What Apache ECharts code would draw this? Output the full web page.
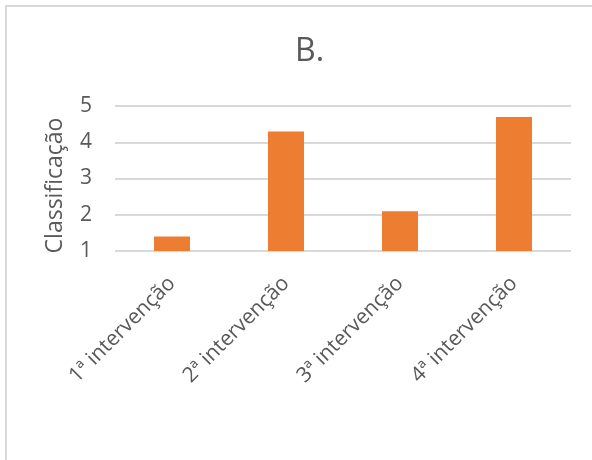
<!DOCTYPE html>
<html>
<head>
<meta charset="utf-8">
<script src="https://cdn.jsdelivr.net/npm/echarts@6/dist/echarts.min.js"></script>
<style>
  html, body { margin: 0; padding: 0; background: #fff; }
  #chart { width: 592px; height: 460px; }
</style>
</head>
<body>
<div id="chart"></div>
<script>
// Rating per intervention session
const categories = ['1ª intervenção', '2ª intervenção', '3ª intervenção', '4ª intervenção'];
const ratings = [1.4, 4.3, 2.1, 4.7];
const yTicks = { min: 1, max: 5, interval: 1 };

const textColor = '#595959';
const fontFamily = '"Open Sans", "Noto Sans", sans-serif';

const chart = echarts.init(document.getElementById('chart'), null, { renderer: 'canvas' });

chart.setOption({
  backgroundColor: '#ffffff',
  animation: false,
  graphic: [{
    type: 'rect',
    shape: { x: 6, y: 6, width: 620, height: 480 },
    style: { fill: 'none', stroke: '#d9d9d9', lineWidth: 2 },
    silent: true
  }],
  title: {
    text: 'B.',
    left: 290,
    top: 31,
    textStyle: { color: textColor, fontSize: 32, fontWeight: 'normal', fontFamily }
  },
  grid: { left: 115, right: 21, top: 106, bottom: 209, containLabel: false },
  xAxis: {
    type: 'category',
    data: categories,
    axisLine: { show: false },
    axisTick: { show: false },
    axisLabel: {
      rotate: 45,
      margin: 29,
      interval: 0,
      color: textColor,
      fontSize: 21,
      fontFamily
    }
  },
  yAxis: {
    type: 'value',
    min: yTicks.min,
    max: yTicks.max,
    interval: yTicks.interval,
    name: 'Classificação',
    nameLocation: 'middle',
    nameGap: 48,
    nameTextStyle: { color: textColor, fontSize: 23, fontFamily, padding: [0, 14, 0, 0] },
    axisLine: { show: false },
    axisTick: { show: false },
    axisLabel: { color: textColor, fontSize: 21, fontFamily, margin: 23 },
    splitLine: { lineStyle: { color: '#d9d9d9', width: 2 } }
  },
  series: [{
    type: 'bar',
    data: ratings,
    barWidth: '31.6%',
    itemStyle: { color: '#ED7D31' }
  }]
});
</script>
</body>
</html>
